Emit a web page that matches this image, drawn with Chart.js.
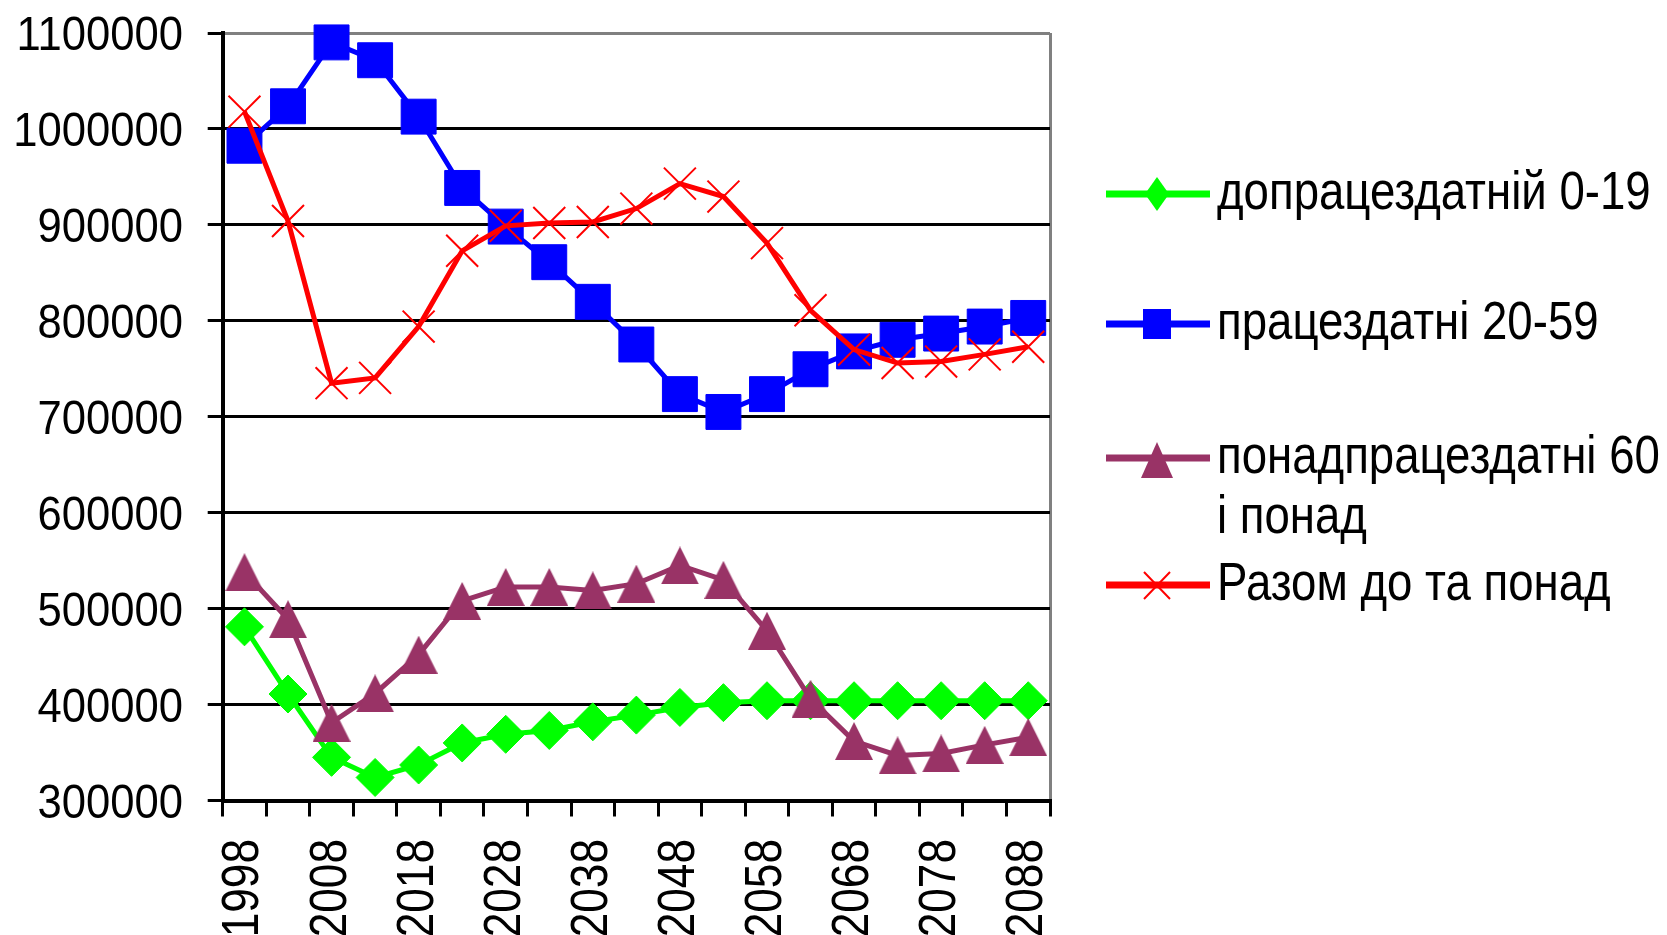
<!DOCTYPE html>
<html>
<head>
<meta charset="utf-8">
<script src="https://cdn.jsdelivr.net/npm/chart.js@4.4.1/dist/chart.umd.min.js"></script>
<style>
html, body { margin: 0; padding: 0; background: #fff; }
#wrap { width: 1667px; height: 935px; position: relative; }
</style>
</head>
<body>
<div id="wrap"><canvas id="lineChart"></canvas></div>
<script>
var years = ['1998','2003','2008','2013','2018','2023','2028','2033','2038','2043',
             '2048','2053','2058','2063','2068','2073','2078','2083','2088'];
var yTicks = [300000, 400000, 500000, 600000, 700000, 800000, 900000, 1000000, 1100000];

var names = ['допрацездатній 0-19', 'працездатні 20-59', 'понадпрацездатні 60 і понад', 'Разом до та понад'];

var under20 = [481000, 411000, 345000, 324000, 337000, 360000, 369000, 373000, 382000, 389000,
               397000, 402000, 404000, 404000, 404000, 404000, 404000, 404000, 404000];
var working = [982500, 1023600, 1090200, 1071600, 1012800, 938500, 898200, 861100, 819800, 775300,
               723600, 705000, 723600, 749500, 768100, 780200, 786700, 794000, 803000];
var over60 = [538000, 489000, 381000, 411600, 452000, 508000, 522600, 522600, 519000, 526000,
              545000, 530000, 477000, 406000, 362000, 347000, 349000, 358000, 366000];
var total = [1018000, 904000, 735000, 740500, 794000, 873000, 899000, 902000, 903000, 917000,
             943000, 929500, 881000, 811000, 770000, 756000, 757500, 765000, 773000];

var FONT = '"Liberation Sans", Arial, sans-serif';

function triangleMarker(w, h, color) {
    var c = document.createElement('canvas');
    c.width = w; c.height = h;
    var g = c.getContext('2d');
    g.fillStyle = color;
    g.beginPath();
    g.moveTo(w / 2, 0);
    g.lineTo(w, h);
    g.lineTo(0, h);
    g.closePath();
    g.fill();
    return c;
}

function legendMarker(ctx, k, x, y, color) {
    ctx.fillStyle = color;
    ctx.strokeStyle = color;
    ctx.beginPath();
    if (k === 0) {
        ctx.moveTo(x, y - 17); ctx.lineTo(x + 12, y); ctx.lineTo(x, y + 17); ctx.lineTo(x - 12, y);
        ctx.closePath(); ctx.fill();
    } else if (k === 1) {
        ctx.rect(x - 14, y - 15, 28, 30); ctx.fill();
    } else if (k === 2) {
        ctx.moveTo(x, y - 16); ctx.lineTo(x + 16, y + 20); ctx.lineTo(x - 16, y + 20);
        ctx.closePath(); ctx.fill();
    } else {
        ctx.lineWidth = 2;
        ctx.moveTo(x - 13, y - 13); ctx.lineTo(x + 13, y + 14);
        ctx.moveTo(x + 13, y - 13); ctx.lineTo(x - 13, y + 14);
        ctx.stroke();
    }
}

function wrapWords(ctx, text, maxW, sx) {
    var words = text.split(' '), lines = [], cur = '';
    words.forEach(function (w) {
        var test = cur ? cur + ' ' + w : w;
        if (cur && ctx.measureText(test).width * sx > maxW) {
            lines.push(cur);
            cur = w;
        } else {
            cur = test;
        }
    });
    lines.push(cur);
    return lines;
}

// tick labels and legend are drawn here so the glyphs can be squeezed like in the picture
var textPlugin = {
    id: 'textPlugin',
    afterDraw: function (chart) {
        var ctx = chart.ctx, xs = chart.scales.x, ys = chart.scales.y;
        ctx.save();
        ctx.fillStyle = '#000';
        ctx.textBaseline = 'alphabetic';

        ctx.font = '49px ' + FONT;
        ctx.textAlign = 'right';
        ys.ticks.forEach(function (t) {
            var py = ys.getPixelForValue(t.value);
            ctx.save();
            ctx.translate(183, py + 17);
            ctx.scale(0.89, 1);
            ctx.fillText(String(t.value), 0, 0);
            ctx.restore();
        });

        ctx.font = '52px ' + FONT;
        xs.ticks.forEach(function (t, i) {
            if (i % 2) return;
            var px = xs.getPixelForTick(i);
            ctx.save();
            ctx.translate(px + 14, 839);
            ctx.rotate(-Math.PI / 2);
            ctx.scale(0.85, 1);
            ctx.textAlign = 'right';
            ctx.fillText(xs.getLabelForValue(t.value), 0, 0);
            ctx.restore();
        });

        var legendY = [194, 324, 458, 585];
        chart.data.datasets.forEach(function (ds, k) {
            var ly = legendY[k];
            ctx.strokeStyle = ds.borderColor;
            ctx.lineWidth = 7;
            ctx.beginPath();
            ctx.moveTo(1106, ly);
            ctx.lineTo(1210, ly);
            ctx.stroke();
            legendMarker(ctx, k, 1157, ly, ds.borderColor);

            ctx.fillStyle = '#000';
            ctx.font = '53px ' + FONT;
            ctx.textAlign = 'left';
            var lines = wrapWords(ctx, ds.label, 450, 0.86);
            lines.forEach(function (line, j) {
                ctx.save();
                ctx.translate(1217, ly + 15 + j * 60);
                ctx.scale(0.86, 1);
                ctx.fillText(line, 0, 0);
                ctx.restore();
            });
        });
        ctx.restore();
    }
};

var ctx = document.getElementById('lineChart');

var data = {
    labels: years,
    datasets: [{
        label: names[0],
        data: under20,
        borderColor: '#00FF00',
        backgroundColor: '#00FF00',
        borderWidth: 5,
        pointStyle: 'rectRot',
        pointRadius: 19,
        pointBackgroundColor: '#00FF00',
        pointBorderColor: '#00FF00',
        pointBorderWidth: 1,
        tension: 0,
        clip: false,
        order: 3
    }, {
        label: names[1],
        data: working,
        borderColor: '#0000FF',
        backgroundColor: '#0000FF',
        borderWidth: 5,
        pointStyle: 'rect',
        pointRadius: 24.7,
        pointBackgroundColor: '#0000FF',
        pointBorderColor: '#0000FF',
        pointBorderWidth: 1,
        tension: 0,
        clip: false,
        order: 2
    }, {
        label: names[2],
        data: over60,
        borderColor: '#993366',
        backgroundColor: '#993366',
        borderWidth: 5,
        pointStyle: triangleMarker(38, 38, '#993366'),
        pointRadius: 19,
        tension: 0,
        clip: false,
        order: 1
    }, {
        label: names[3],
        data: total,
        borderColor: '#FF0000',
        backgroundColor: '#FF0000',
        borderWidth: 5,
        pointStyle: 'crossRot',
        pointRadius: 22.6,
        pointBorderColor: '#FF0000',
        pointBorderWidth: 2,
        tension: 0,
        clip: false,
        order: 0
    }]
};

var options = {
    responsive: true,
    maintainAspectRatio: false,
    animation: false,
    layout: {
        padding: { left: 207.7, top: 33, right: 617, bottom: 118.5 }
    },
    plugins: {
        legend: { display: false },
        tooltip: { enabled: false }
    },
    scales: {
        x: {
            offset: true,
            ticks: { display: false, autoSkip: false },
            grid: {
                offset: true,
                color: function (c) { return c.type === 'scale' ? '#808080' : 'rgba(0,0,0,0)'; },
                lineWidth: 3,
                tickColor: '#000',
                tickWidth: 3,
                tickLength: 16
            },
            border: { color: '#000', width: 4 }
        },
        y: {
            min: yTicks[0],
            max: yTicks[yTicks.length - 1],
            ticks: { display: false, stepSize: yTicks[1] - yTicks[0] },
            grid: {
                color: function (c) {
                    return c.tick && c.tick.value === yTicks[yTicks.length - 1] ? '#808080' : '#000';
                },
                lineWidth: 3,
                tickColor: '#000',
                tickWidth: 3,
                tickLength: 15
            },
            border: { color: '#000', width: 4 }
        }
    }
};

var line = new Chart(ctx, {
    type: 'line',
    data: data,
    options: options,
    plugins: [textPlugin]
});
</script>
</body>
</html>
